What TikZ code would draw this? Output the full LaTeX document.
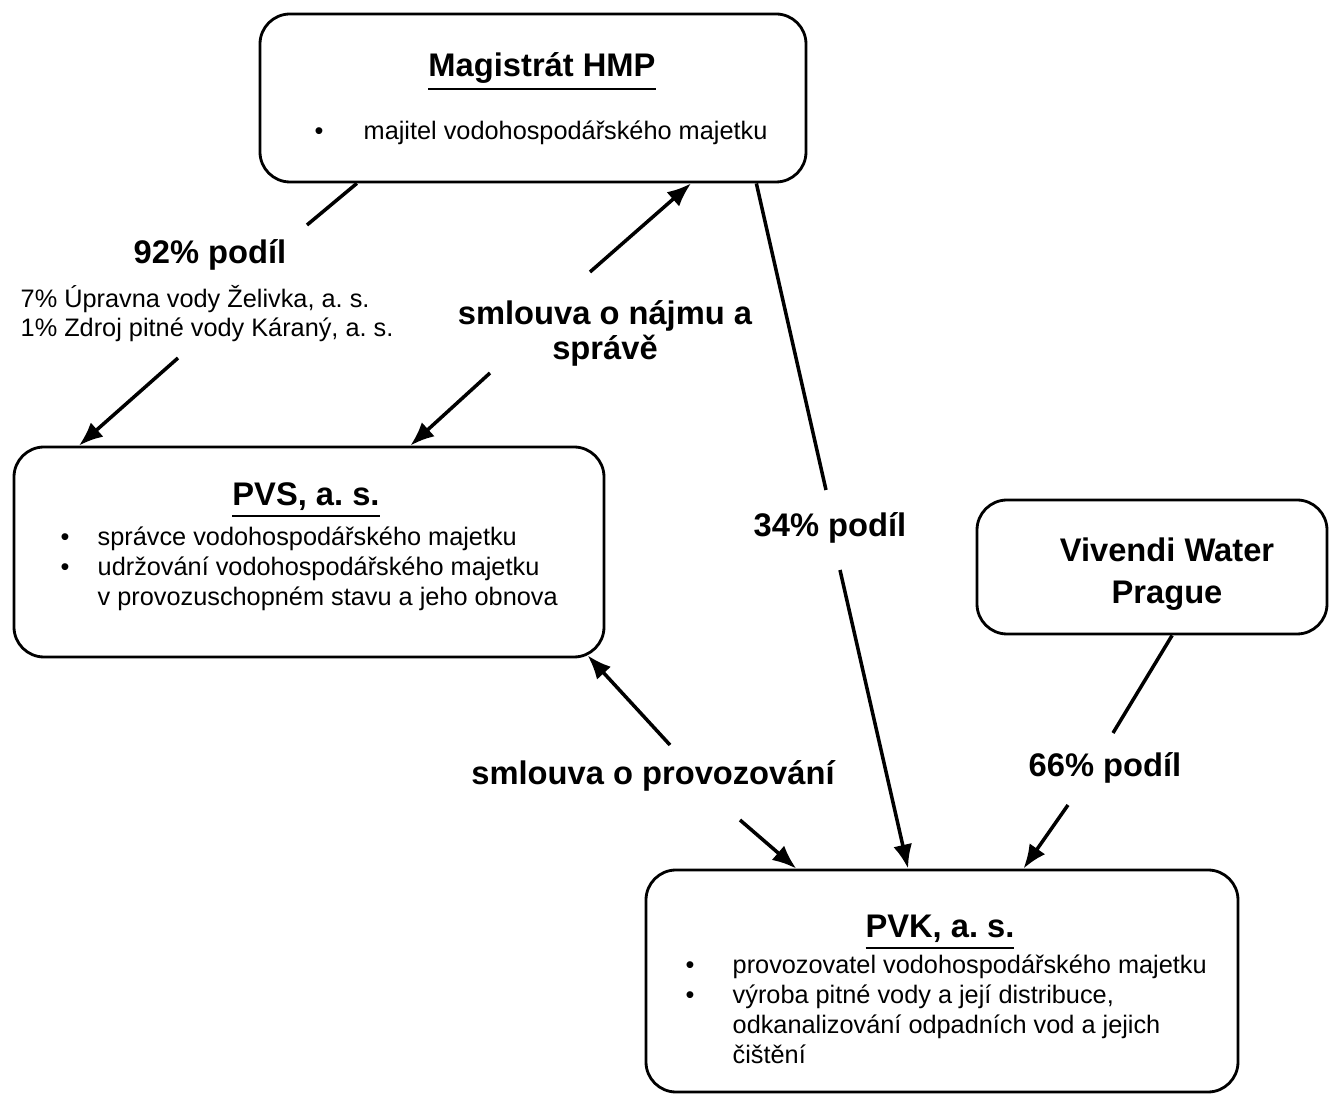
\documentclass[tikz,border=0pt]{standalone}
\usepackage{fontspec}
\setmainfont{Liberation Sans}
\usetikzlibrary{arrows.meta,positioning,calc}
\frenchspacing

\tikzset{
  box/.style={draw, line width=0.8pt, rounded corners=0.3cm},
  lab/.style={font=\bfseries\fontsize{9.3}{11}\selectfont, inner sep=0pt},
  txt/.style={font=\fontsize{7.2}{8.5}\selectfont, inner sep=0pt},
  arr/.style={-{Latex[length=2.4mm,width=1.9mm]}, line width=1pt},
  ln/.style={line width=1pt}
}

\begin{document}
\begin{tikzpicture}
	\useasboundingbox (0,0) rectangle (13.3,-10.95);

	% boxes
	\node[box, minimum width=5.46cm, minimum height=1.68cm] (mag) at (5.33,-0.98) {};
	\node[box, minimum width=5.90cm, minimum height=2.10cm] (pvs) at (3.09,-5.52) {};
	\node[box, minimum width=3.50cm, minimum height=1.34cm] (viv) at (11.52,-5.67) {};
	\node[box, minimum width=5.92cm, minimum height=2.22cm] (pvk) at (9.42,-9.81) {};

	% texts in boxes
	\node[lab, anchor=base] (magtitle) at (5.42,-0.77) {\underline{Magistrát HMP}};
	\node[txt, anchor=base west] (magtxt) at (3.14,-1.40) {\begin{tabular}[t]{@{}p{0.49cm}@{}l@{}}
		\textbullet & majitel vodohospodářského majetku\end{tabular}};

	\node[lab, anchor=base] (pvstitle) at (3.06,-5.06) {\underline{PVS, a. s.}};
	\node[txt, anchor=base west] (pvstxt) at (0.60,-5.46) {\begin{tabular}[t]{@{}p{0.37cm}@{}l@{}}
		\textbullet & správce vodohospodářského majetku\\
		\textbullet & udržování vodohospodářského majetku\\
		 & v provozuschopném stavu a jeho obnova\end{tabular}};

	\node[lab, align=center] (vivtxt) at (11.67,-5.74) {Vivendi Water\\[1pt]Prague};

	\node[lab, anchor=base] (pvktitle) at (9.40,-9.38) {\underline{PVK, a. s.}};
	\node[txt, anchor=base west] (pvktxt) at (6.85,-9.74) {\begin{tabular}[t]{@{}p{0.47cm}@{}l@{}}
		\textbullet & provozovatel vodohospodářského majetku\\
		\textbullet & výroba pitné vody a její distribuce,\\
		 & odkanalizování odpadních vod a jejich\\
		 & čištění\end{tabular}};

	% labels on the connectors
	\node[lab, anchor=base] (p92) at (2.10,-2.64) {92\% podíl};
	\node[txt, anchor=base west, align=left] (minor) at (0.20,-3.37) {7\% Úpravna vody Želivka, a. s.\\1\% Zdroj pitné vody Káraný, a. s.};
	\node[lab, align=center] (najem) at (6.05,-3.33) {smlouva o nájmu a\\[-1pt]správě};
	\node[lab, anchor=base] (p34) at (8.30,-5.37) {34\% podíl};
	\node[lab, anchor=base] (p66) at (11.05,-7.77) {66\% podíl};
	\node[lab, anchor=base] (provoz) at (6.53,-7.85) {smlouva o provozování};

	% free ends of the connectors
	\coordinate (c1) at (3.07,-2.25);
	\coordinate (c2) at (1.78,-3.58);
	\coordinate (c3) at (5.90,-2.72);
	\coordinate (c4) at (4.90,-3.73);
	\coordinate (c5) at (8.26,-4.90);
	\coordinate (c6) at (8.40,-5.70);
	\coordinate (c7) at (11.13,-7.33);
	\coordinate (c8) at (10.68,-8.05);
	\coordinate (c9) at (6.70,-7.45);
	\coordinate (c10) at (7.40,-8.20);

	% 92% share
	\draw[ln] ($(mag.south west)!0.179!(mag.south east)$) -- (c1);
	\draw[arr] (c2) -- ($(pvs.north west)!0.112!(pvs.north east)$);
	% lease contract
	\draw[arr] (c3) -- ($(mag.south west)!0.788!(mag.south east)$);
	\draw[arr] (c4) -- ($(pvs.north west)!0.671!(pvs.north east)$);
	% 34% share
	\draw[ln] ($(mag.south west)!0.907!(mag.south east)$) -- (c5);
	\draw[arr] (c6) -- ($(pvk.north west)!0.443!(pvk.north east)$);
	% 66% share
	\draw[ln] ($(viv.south west)!0.557!(viv.south east)$) -- (c7);
	\draw[arr] (c8) -- ($(pvk.north west)!0.637!(pvk.north east)$);
	% operating contract
	\draw[arr] (c9) -- ($(pvs.south west)!0.97!(pvs.south east)+(0,0.03)$);
	\draw[arr] (c10) -- ($(pvk.north west)!0.255!(pvk.north east)$);
\end{tikzpicture}
\end{document}
